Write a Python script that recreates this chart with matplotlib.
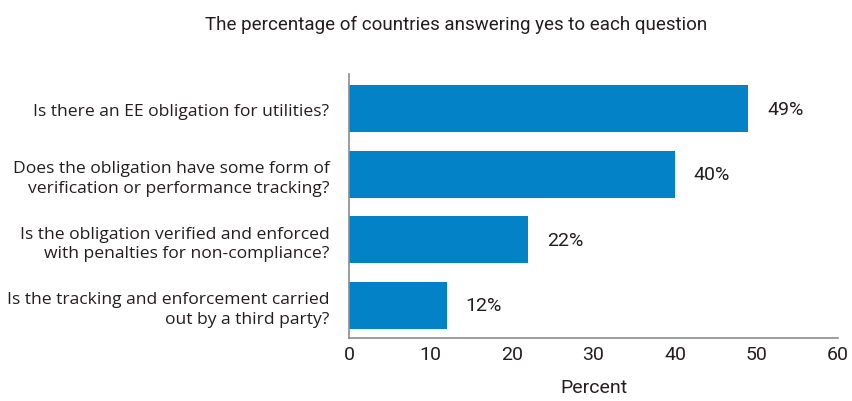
import matplotlib
matplotlib.use('Agg')
import matplotlib.pyplot as plt

# data
questions = [
    'Is there an EE obligation for utilities?',
    'Does the obligation have some form of\nverification or performance tracking?',
    'Is the obligation verified and enforced\nwith penalties for non-compliance?',
    'Is the tracking and enforcement carried\nout by a third party?',
]
percent = [49, 40, 22, 12]
xticks = [0, 10, 20, 30, 40, 50, 60]

BLUE = '#0382C8'
TXT = '#231F20'
NARROW = ['Roboto', 'DejaVu Sans']

fig = plt.figure(figsize=(8.52, 4.02), dpi=100)
ax = fig.add_axes([0.4096, 0.1567, 0.5740, 0.6567])

ypos = list(range(len(questions)))
ax.barh(ypos, percent, height=0.72, color=BLUE)
ax.set_ylim(3.5, -0.53)
ax.set_xlim(0, 60)

for y, v in zip(ypos, percent):
    ax.text(v + 2.3, y, f'{v}%', va='center', ha='left', fontsize=14,
            color=TXT, family=NARROW)

ax.set_yticks(ypos)
ax.set_yticklabels(questions, fontsize=12.6, color=TXT,
                   family=['Open Sans', 'DejaVu Sans'], linespacing=1.3)
ax.set_xticks(xticks)
ax.set_xticklabels([str(t) for t in xticks], fontsize=14, color=TXT,
                   family=NARROW)
ax.tick_params(axis='y', length=0, pad=14)
ax.tick_params(axis='x', length=0, pad=5)

for s in ['top', 'right']:
    ax.spines[s].set_visible(False)
for s in ['left', 'bottom']:
    ax.spines[s].set_color('#8C8C8C')
    ax.spines[s].set_linewidth(1.2)

ax.set_xlabel('Percent', fontsize=14, color=TXT, family=NARROW, labelpad=11)
fig.text(0.535, 0.937, 'The percentage of countries answering yes to each question',
         ha='center', va='center', fontsize=13.5, color=TXT, family=NARROW)

fig.savefig('out.png', dpi=100)
